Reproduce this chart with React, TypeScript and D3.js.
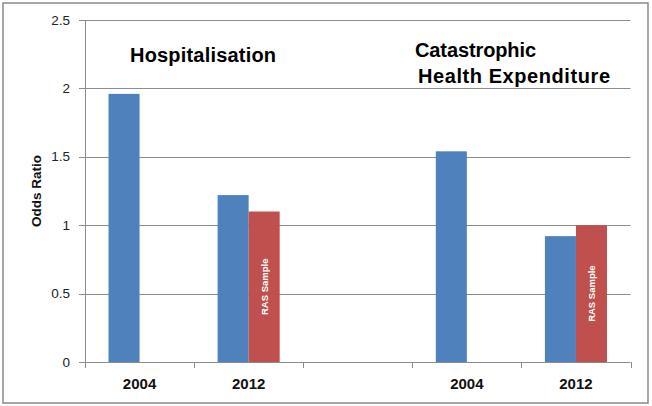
import React from "react";
import * as d3 from "d3";

const categories = ["2004", "2012", "", "2004", "2012"];
const seriesMain = [1.96, 1.22, null, 1.54, 0.92];
const seriesRAS = [null, 1.1, null, null, 1.0];
const rasLabel = "RAS Sample";
const yTicks = [0, 0.5, 1, 1.5, 2, 2.5];
const yTitle = "Odds Ratio";
const panelTitles = [["Hospitalisation"], ["Catastrophic", "Health Expenditure"]];

const W = 652;
const H = 406;
const left = 85;
const right = 630.5;
const top = 20;
const bottom = 362;

export default function App() {
  const x = d3.scaleBand<number>().domain(categories.map((_, i) => i)).range([left, right]).paddingInner(0).paddingOuter(0);
  const sub = d3.scaleBand<string>().domain(["main", "ras"]).range([0, x.bandwidth()]).paddingInner(0).paddingOuter(0.758);
  const y = d3.scaleLinear().domain([0, 2.5]).range([bottom, top]);
  const font = "'Liberation Sans', Arial, sans-serif";
  const grid = "#8c8c8c";
  const tickPositions = d3.range(categories.length + 1).map((i) => left + i * x.step());

  return (
    <svg width={W} height={H} style={{ position: "absolute", left: 0, top: 0, background: "#fff" }} fontFamily={font}>
      <rect x={3} y={3} width={645} height={400} fill="#fff" stroke="#8a8a8a" strokeWidth={1.5} />
      {yTicks.map((t) => (
        <g key={t}>
          <line x1={left - 6} x2={right} y1={Math.round(y(t)) + 0.5} y2={Math.round(y(t)) + 0.5} stroke={grid} strokeWidth={1} />
          <text x={70} y={y(t) + 4.5} textAnchor="end" fontSize={13.5} fill="#222">{t}</text>
        </g>
      ))}
      <line x1={left + 0.5} x2={left + 0.5} y1={top} y2={bottom + 0.5} stroke={grid} strokeWidth={1} />
      {tickPositions.map((p, i) => (
        <line key={i} x1={Math.round(p) + 0.5} x2={Math.round(p) + 0.5} y1={bottom} y2={bottom + 6} stroke={grid} strokeWidth={1} />
      ))}
      {categories.map((c, i) => {
        const bx = x(i)!;
        const v1 = seriesMain[i];
        const v2 = seriesRAS[i];
        return (
          <g key={i}>
            {v1 != null && (
              <rect x={bx + sub("main")!} y={y(v1)} width={sub.bandwidth()} height={y(0) - y(v1)} fill="#4F81BD" />
            )}
            {v2 != null && (
              <g>
                <rect x={bx + sub("ras")!} y={y(v2)} width={sub.bandwidth()} height={y(0) - y(v2)} fill="#C0504D" />
                <text
                  transform={`translate(${bx + sub("ras")! + sub.bandwidth() / 2 + 3.5},${(y(v2) + y(0)) / 2}) rotate(-90)`}
                  textAnchor="middle"
                  fontSize={9.5}
                  fontWeight="bold"
                  fill="#fff"
                >
                  {rasLabel}
                </text>
              </g>
            )}
            {c && (
              <text x={bx + x.bandwidth() / 2} y={389} textAnchor="middle" fontSize={15} fontWeight="bold" fill="#111">
                {c}
              </text>
            )}
          </g>
        );
      })}
      <text transform={`translate(41,${(top + bottom) / 2}) rotate(-90)`} textAnchor="middle" fontSize={13.5} fontWeight="bold" fill="#111">
        {yTitle}
      </text>
      <text x={130} y={62} fontSize={20} fontWeight="bold" fill="#000" textLength={146} lengthAdjust="spacing">{panelTitles[0][0]}</text>
      <text x={415} y={56.5} fontSize={20} fontWeight="bold" fill="#000" textLength={121} lengthAdjust="spacing">{panelTitles[1][0]}</text>
      <text x={418} y={83} fontSize={20} fontWeight="bold" fill="#000" textLength={192} lengthAdjust="spacing">{panelTitles[1][1]}</text>
    </svg>
  );
}
